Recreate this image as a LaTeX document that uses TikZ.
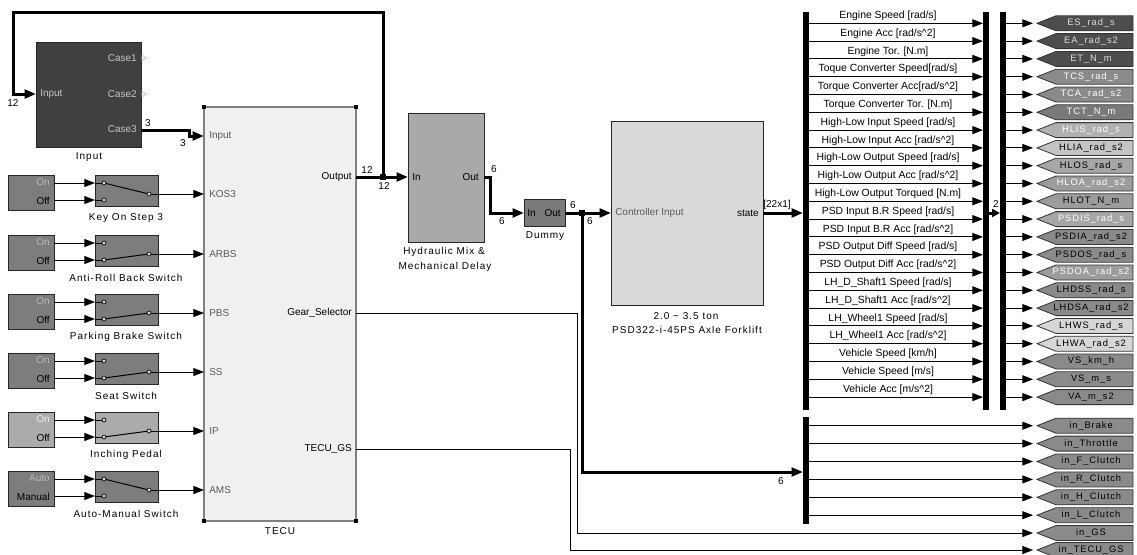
\documentclass[tikz,border=0pt]{standalone}
\usepackage{fontspec}
\setmainfont{Liberation Sans}
\newfontfamily\spc[LetterSpace=10]{Liberation Sans}
\newfontfamily\tgf[LetterSpace=10]{Liberation Sans}
\usetikzlibrary{arrows.meta}
\definecolor{gA}{HTML}{7D7D7D}
\definecolor{gB}{HTML}{ABABAB}
\definecolor{inblk}{HTML}{404040}
\definecolor{tecuf}{HTML}{F0F0F0}
\definecolor{hydf}{HTML}{A9A9A9}
\definecolor{dumf}{HTML}{7A7A7A}
\definecolor{ctrlf}{HTML}{D9D9D9}
\definecolor{portg}{HTML}{5A5A5A}
\definecolor{tgD}{HTML}{4D4D4D}
\definecolor{tgM}{HTML}{8A8A8A}
\definecolor{tgM2}{HTML}{7A7A7A}
\definecolor{tgL}{HTML}{B0B0B0}
\definecolor{tgL2}{HTML}{C4C4C4}
\definecolor{tgL3}{HTML}{A6A6A6}
\definecolor{tgL4}{HTML}{9C9C9C}
\definecolor{tgW}{HTML}{D6D6D6}
\definecolor{tgT}{HTML}{DCDCDC}
\newcommand\blk[6]{\node[#6, anchor=north west, inner sep=0pt, outer sep=0pt, minimum width={(#4-#2)*0.75pt}, minimum height={(#5-#3)*0.75pt}] (#1) at (#2,#3) {};}
\newcommand\tagat[5]{%
  \draw[fill=#4, draw=black!80, line width=0.6pt] (1037,#2) -- (1056,#2-7.5) -- (1133,#2-7.5) -- (1133,#2+7.5) -- (1056,#2+7.5) -- cycle;
  \node[text=#5, font=\fontsize{7}{9}\tgf] (#1) at (1091,#2) {#3};}
\newcommand\dmrow[5]{%
  \pgfmathsetmacro\yy{23.3+17.8*#1}
  \coordinate (da#1) at (809,\yy); \coordinate (db#1) at (983,\yy);
  \coordinate (dc#1) at (1006,\yy); \coordinate (dd#1) at (1033,\yy);
  \draw[sig] (da#1) -- (db#1);
  \node[font=\fontsize{7.8}{9}\selectfont] (sl#1) at (888,\yy-7.5) {#2};
  \draw[sig] (dc#1) -- (dd#1);
  \tagat{tg#1}{\yy}{#3}{#4}{#5}}
\newcommand\bdrow[4]{%
  \pgfmathsetmacro\yy{425.7+17.9*#1}
  \coordinate (ba#1) at (809,\yy); \coordinate (bb#1) at (1033,\yy);
  \draw[sig] (ba#1) -- (bb#1);
  \tagat{bt#1}{\yy}{#2}{#3}{#4}}
\newcommand\pw{\textasciicircum}
\begin{document}
\begin{tikzpicture}[x=0.75pt,y=-0.75pt,
  every node/.style={font=\fontsize{7.5}{9}\selectfont, inner sep=0pt},
  sig/.style={line width=0.75pt, -{Triangle[length=8pt,width=6pt]}},
  wire/.style={line width=0.75pt},
  bus/.style={line width=2.25pt, -{Triangle[length=8.5pt,width=6.5pt]}},
  blkd/.style={draw=black!85, line width=0.75pt},
  lbl/.style={font=\fontsize{7.5}{9}\spc},
  junc/.style={fill=black, minimum size=5pt},
  contact/.style={circle, draw=black, fill=black!15, line width=0.5pt, minimum size=3pt},
  handle/.style={fill=black, minimum size=3.5pt}]
\fill[white] (0,0) rectangle (1137,554);
\useasboundingbox (0,0) rectangle (1137,554);

% ---------- Input block ----------
\blk{inb}{36}{42}{141}{147}{blkd, fill=inblk}
\node[anchor=west, text=black!22] (tInput) at (40,94) {Input};
\node[anchor=east, text=black!22] (tC1) at (137,58) {Case1};
\node[anchor=east, text=black!22] (tC2) at (137,94) {Case2};
\node[anchor=east, text=black!22] (tC3) at (137,129) {Case3};
\draw[black!25, line width=0.5pt] (142,55) -- (146,58) -- (142,61) -- cycle;
\draw[black!25, line width=0.5pt] (142,91) -- (146,94) -- (142,97) -- cycle;
\node[lbl] (lInput) at (89,157) {Input};
\coordinate (inbC3) at (141,130);
\coordinate (inbP) at (36,94);

% ---------- TECU ----------
\blk{tecu}{204}{107}{356}{521}{draw=black!50, line width=1pt, fill=tecuf}
\node[handle] (h1) at (204,107) {};
\node[handle] (h2) at (356,107) {};
\node[handle] (h3) at (204,521) {};
\node[handle] (h4) at (356,521) {};
\node[lbl] (lTecu) at (280,531) {TECU};
\foreach \py/\tx [count=\k] in {136/Input,194/KOS3,254/ARBS,313/PBS,372/SS,431/IP,490/AMS}
  \node[anchor=west, text=portg] (tp\k) at (209,\py) {\tx};
\node[anchor=east] (tOut) at (352,177) {Output};
\node[anchor=east] (tGear) at (352,313) {Gear\_Selector};
\node[anchor=east] (tGS) at (352,449) {TECU\_GS};
\coordinate (tecuIn) at (204,136);
\coordinate (tecuOut) at (356,177);
\coordinate (tecuGear) at (356,313);
\coordinate (tecuGS) at (356,449);

\draw[bus] (inbC3) -- ++(48,0) |- (tecuIn);
\node (n3a) at (148,123) {3};
\node (n3b) at (183,143) {3};

% ---------- switches ----------
\foreach \py/\nm/\lab/\fc/\ton/\toff/\sel/\onc in {
  194/kos/Key On Step 3/gA/On/Off/0/black!28,
  254/arbs/Anti-Roll Back Switch/gA/On/Off/1/black!28,
  313/pbs/Parking Brake Switch/gA/On/Off/1/black!28,
  372/ss/Seat Switch/gA/On/Off/1/black!28,
  431/ip/Inching Pedal/gB/On/Off/1/black!8,
  490/ams/Auto-Manual Switch/gA/Auto/Manual/0/black!28}
{
  \pgfmathsetmacro\T{\py-19}
  \pgfmathsetmacro\ly{\T+8+17*\sel}
  \node[blkd, fill=\fc, anchor=north west, minimum width=34.5pt, minimum height=26.25pt] (c\nm) at (8,\T) {};
  \node[anchor=east, text=\onc] (con\nm) at (50,\T+7.5) {\ton};
  \node[anchor=east] (cof\nm) at (50,\T+25.5) {\toff};
  \node[blkd, fill=\fc, anchor=north west, minimum width=47.25pt, minimum height=23.25pt] (s\nm) at (95,\T) {};
  \coordinate (o1\nm) at (54,\T+8); \coordinate (i1\nm) at (95,\T+8);
  \coordinate (o2\nm) at (54,\T+25); \coordinate (i2\nm) at (95,\T+25);
  \coordinate (kIn\nm) at (104,\ly);
  \coordinate (tpt\nm) at (204,\py);
  \draw[sig] (o1\nm) -- (i1\nm);
  \draw[sig] (o2\nm) -- (i2\nm);
  \draw[wire] (i1\nm) -- (104,\T+8);
  \draw[wire] (i2\nm) -- (104,\T+25);
  \draw[wire] (kIn\nm) -- (149,\py);
  \node[contact] (ka\nm) at (104,\T+8) {};
  \node[contact] (kb\nm) at (104,\T+25) {};
  \node[contact] (kc\nm) at (149,\py) {};
  \draw[sig] (kc\nm) -- (tpt\nm);
  \node[lbl] (l\nm) at (126,\T+43) {\lab};
}

% ---------- Hydraulic ----------
\blk{hyd}{408}{113}{484}{242}{blkd, fill=hydf}
\node[anchor=west] (tHIn) at (412,177) {In};
\node[anchor=east] (tHOut) at (479,177) {Out};
\node[lbl] (lHyd1) at (444,252) {Hydraulic Mix \&};
\node[lbl] (lHyd2) at (445,267) {Mechanical Delay};
\coordinate (hydIn) at (408,177);
\coordinate (hydOut) at (484,177);

\node[junc] (j1) at (383,177) {};
\draw[bus] (tecuOut) -- (hydIn);
\draw[bus] (j1.center) |- (13,12) |- (inbP);
\node (n12a) at (13,103) {12};
\node (n12b) at (367,170) {12};
\node (n12c) at (384,186) {12};

% ---------- Dummy ----------
\blk{dum}{524}{199}{565}{226}{blkd, fill=dumf}
\node[anchor=west] (tDIn) at (527,213) {In};
\node[anchor=east] (tDOut) at (561,213) {Out};
\node[lbl] (lDum) at (545,236) {Dummy};
\coordinate (dumIn) at (524,213);
\coordinate (dumOut) at (565,213);
\draw[bus] (hydOut) -- (490,177) |- (dumIn);
\node (n6a) at (494,169) {6};
\node (n6b) at (502,221) {6};

% ---------- Controller ----------
\blk{ctrl}{611}{121}{763}{305}{blkd, fill=ctrlf}
\node[anchor=west, text=portg] (tCIn) at (615,213) {Controller Input};
\node[anchor=east] (tCOut) at (759,213) {state};
\node[lbl] (lC1) at (686,316) {2.0 \textasciitilde{} 3.5 ton};
\node[lbl] (lC2) at (687,330) {PSD322-i-45PS Axle Forklift};
\coordinate (ctrlIn) at (611,213);
\coordinate (ctrlOut) at (763,213);

\node[junc] (j2) at (582,213) {};
\draw[bus] (dumOut) -- (ctrlIn);
\coordinate (bdIn) at (803,472);
\draw[bus] (j2.center) |- (bdIn);
\node (n6c) at (573,205) {6};
\node (n6d) at (590,221) {6};
\node (n6e) at (781,481) {6};

% ---------- bars ----------
\blk{dm}{803}{12}{809}{410}{fill=black}
\blk{mx}{983}{12}{989}{410}{fill=black}
\blk{dmb}{1000}{12}{1006}{410}{fill=black}
\blk{bd}{803}{417}{809}{524}{fill=black}
\coordinate (dmIn) at (803,213);
\draw[bus] (ctrlOut) -- (dmIn);
\node (n22) at (777,205) {[22x1]};
\coordinate (mxOut) at (989,213);
\coordinate (dmbIn) at (1000,213);
\draw[line width=2.25pt, -{Triangle[length=6pt,width=6pt]}] (mxOut) -- (dmbIn);
\node (n2) at (996,204) {2};

% ---------- demux rows ----------
\dmrow{0}{Engine Speed [rad/s]}{ES\_rad\_s}{tgD}{tgT}
\dmrow{1}{Engine Acc [rad/s\pw2]}{EA\_rad\_s2}{tgD}{tgT}
\dmrow{2}{Engine Tor. [N.m]}{ET\_N\_m}{tgD}{tgT}
\dmrow{3}{Toque Converter Speed[rad/s]}{TCS\_rad\_s}{tgM}{white}
\dmrow{4}{Torque Converter Acc[rad/s\pw2]}{TCA\_rad\_s2}{tgM}{white}
\dmrow{5}{Torque Converter Tor. [N.m]}{TCT\_N\_m}{tgM2}{white}
\dmrow{6}{High-Low Input Speed [rad/s]}{HLIS\_rad\_s}{tgL}{white}
\dmrow{7}{High-Low Input Acc [rad/s\pw2]}{HLIA\_rad\_s2}{tgL2}{black}
\dmrow{8}{High-Low Output Speed [rad/s]}{HLOS\_rad\_s}{tgL3}{black}
\dmrow{9}{High-Low Output Acc [rad/s\pw2]}{HLOA\_rad\_s2}{tgL4}{white}
\dmrow{10}{High-Low Output Torqued [N.m]}{HLOT\_N\_m}{tgL4}{black}
\dmrow{11}{PSD Input B.R Speed [rad/s]}{PSDIS\_rad\_s}{tgL3}{white}
\dmrow{12}{PSD Input B.R Acc [rad/s\pw2]}{PSDIA\_rad\_s2}{tgM}{black}
\dmrow{13}{PSD Output Diff Speed [rad/s]}{PSDOS\_rad\_s}{tgM}{black}
\dmrow{14}{PSD Output Diff Acc [rad/s\pw2]}{PSDOA\_rad\_s2}{tgL4}{white}
\dmrow{15}{LH\_D\_Shaft1 Speed [rad/s]}{LHDSS\_rad\_s}{tgM}{black}
\dmrow{16}{LH\_D\_Shaft1 Acc [rad/s\pw2]}{LHDSA\_rad\_s2}{tgM}{black}
\dmrow{17}{LH\_Wheel1 Speed [rad/s]}{LHWS\_rad\_s}{tgW}{black}
\dmrow{18}{LH\_Wheel1 Acc [rad/s\pw2]}{LHWA\_rad\_s2}{tgW}{black}
\dmrow{19}{Vehicle Speed [km/h]}{VS\_km\_h}{tgM}{black}
\dmrow{20}{Vehicle Speed [m/s]}{VS\_m\_s}{tgM}{black}
\dmrow{21}{Vehicle Acc [m/s\pw2]}{VA\_m\_s2}{tgM}{black}

% ---------- bottom demux ----------
\bdrow{0}{in\_Brake}{tgM}{black}
\bdrow{1}{in\_Throttle}{tgM}{black}
\bdrow{2}{in\_F\_Clutch}{tgM}{black}
\bdrow{3}{in\_R\_Clutch}{tgM}{black}
\bdrow{4}{in\_H\_Clutch}{tgM}{black}
\bdrow{5}{in\_L\_Clutch}{tgM}{black}

\coordinate (gsTip) at (1033,533);
\coordinate (tgsTip) at (1033,550);
\draw[sig] (tecuGear) -- (577,313) |- (gsTip);
\draw[sig] (tecuGS) -- (570,449) |- (tgsTip);
\tagat{tgGS}{533}{in\_GS}{tgM}{black}
\tagat{tgTGS}{550}{in\_TECU\_GS}{tgM}{black}
\end{tikzpicture}
\end{document}
